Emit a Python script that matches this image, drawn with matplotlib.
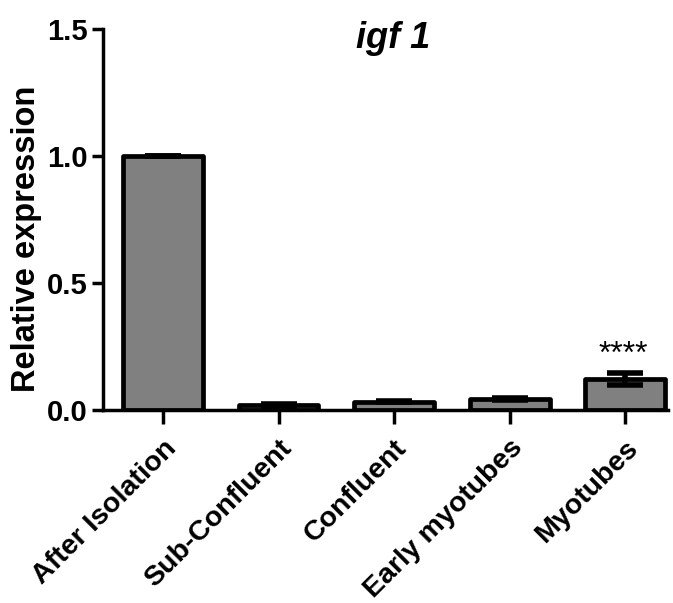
import matplotlib
matplotlib.use("Agg")
import matplotlib.pyplot as plt
import numpy as np

categories = ["After Isolation", "Sub-Confluent", "Confluent", "Early myotubes", "Myotubes"]
values = [1.0, 0.02, 0.033, 0.045, 0.122]
errors = [0.0, 0.003, 0.003, 0.004, 0.022]
yticks = [0.0, 0.5, 1.0, 1.5]
title = "igf 1"
ylabel = "Relative expression"
annot = "****"

plt.rcParams['font.family'] = ['Liberation Sans', 'DejaVu Sans']

fig = plt.figure(figsize=(6.73, 6.03), dpi=100)
ax = fig.add_axes([103/673, (603-410)/603, (668-103)/673, 381/603])

x = np.arange(len(categories))
bars = ax.bar(x, values, width=0.69, color="#808080", edgecolor="black", linewidth=3.4, zorder=2)
for b in bars:
    b.set_joinstyle("round")
ax.errorbar(x, values, yerr=errors, fmt="none", ecolor="black", elinewidth=4, capsize=13, capthick=4, zorder=3)

ax.set_xlim(-0.52, 4.37)
ax.set_ylim(0, 1.5)
ax.set_yticks(yticks)
ax.set_yticklabels([f"{v:.1f}" for v in yticks], fontsize=21, fontweight="bold")
ax.set_xticks(x)
ax.set_xticklabels(categories, rotation=45, ha="right", rotation_mode="anchor", fontsize=20.5, fontweight="bold")
ax.tick_params(axis="y", length=8, width=2.5, pad=3)
ax.tick_params(axis="x", length=10, width=2.5, pad=8)
for s in ["top", "right"]:
    ax.spines[s].set_visible(False)
for s in ["left", "bottom"]:
    ax.spines[s].set_linewidth(2.5)
ax.set_ylabel(ylabel, fontsize=23.5, fontweight="bold")
ax.yaxis.set_label_coords(-0.108, 0.45)
ax.set_title(title, fontsize=26, fontweight="bold", style="italic", pad=-14, x=0.513, y=1.0)
ax.text(x[-1] - 0.02, values[-1] + errors[-1] + 0.012, annot, ha="center", va="bottom", fontsize=23)

fig.savefig("out.png", dpi=100)
